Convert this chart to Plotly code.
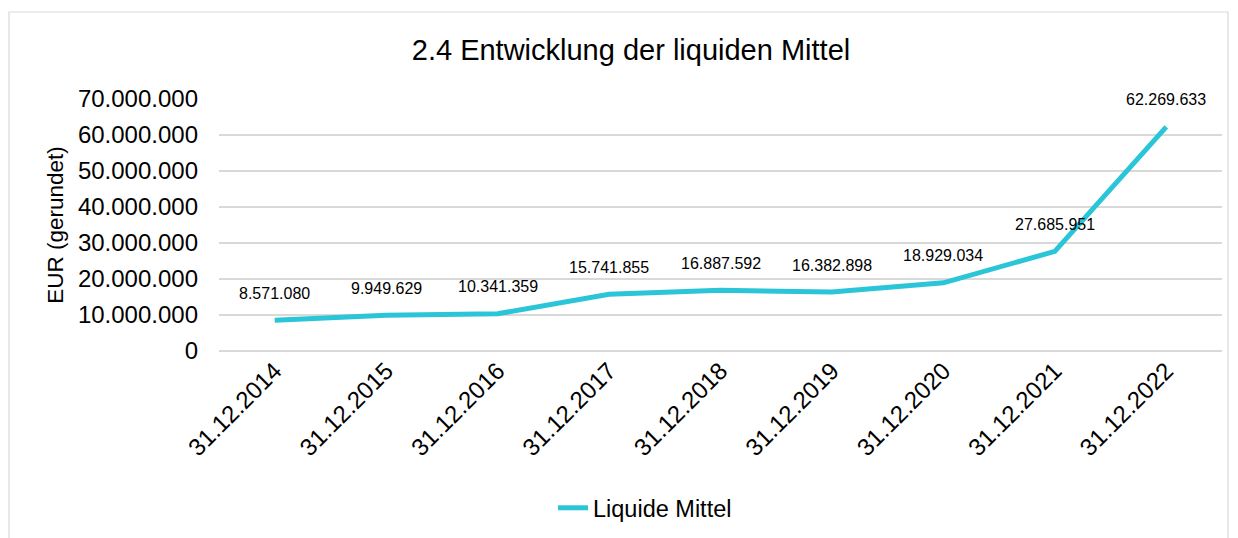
import plotly.graph_objects as go

categories = ["31.12.2014", "31.12.2015", "31.12.2016", "31.12.2017", "31.12.2018",
              "31.12.2019", "31.12.2020", "31.12.2021", "31.12.2022"]
values = [8571080, 9949629, 10341359, 15741855, 16887592, 16382898, 18929034, 27685951, 62269633]
series_name = "Liquide Mittel"
title_text = "2.4 Entwicklung der liquiden Mittel"
y_title = "EUR (gerundet)"
y_ticks = [0, 10000000, 20000000, 30000000, 40000000, 50000000, 60000000, 70000000]

FONT = "Liberation Sans, Arial, sans-serif"
LINE_COLOR = "#2BC5D8"
GRID = "#D9D9D9"

def fmt(v):
    return f"{v:,}".replace(",", ".")

fig = go.Figure()
fig.add_trace(go.Scatter(
    x=categories, y=values, mode="lines", name=series_name,
    line=dict(color=LINE_COLOR, width=5),
))

for c, v in zip(categories, values):
    fig.add_annotation(x=c, y=v, text=fmt(v), showarrow=False, yshift=27,
                       font=dict(size=16, color="#000000", family=FONT))

# page body has an 8px margin; figure coordinates = image coordinates - 8
OFF = 8
W, H = 1230, 530
L, R, T, B = 219 - OFF, 16, 99 - OFF, 187
pw, ph = W - L - R, H - T - B

def px_x(x):
    return (x - OFF - L) / pw

def px_y(y):
    return (H - B - (y - OFF)) / ph

fig.add_shape(type="rect", xref="paper", yref="paper",
              x0=px_x(9), x1=px_x(1228), y0=px_y(570), y1=px_y(12),
              line=dict(color=GRID, width=1.2), fillcolor="rgba(0,0,0,0)", layer="below")

fig.update_layout(
    width=W, height=H,
    margin=dict(l=L, r=R, t=T, b=B, autoexpand=False),
    paper_bgcolor="white", plot_bgcolor="white",
    separators=",.",
    font=dict(family=FONT, color="#000000", size=24),
    title=dict(text=title_text, x=px_x(631), xref="paper", xanchor="center",
               y=1 - (50 - OFF) / H, yref="container", yanchor="middle",
               font=dict(size=29, family=FONT, color="#000000")),
    showlegend=True,
    legend=dict(orientation="h", x=px_x(645), xanchor="center", y=px_y(508), yanchor="middle",
                font=dict(size=23.5, family=FONT, color="#000000")),
    xaxis=dict(type="category", showgrid=False, zeroline=False, showline=False,
               tickangle=-45, tickfont=dict(size=24, family=FONT, color="#000000"),
               ticks="", range=[-0.5, len(categories) - 0.5]),
    yaxis=dict(range=[0, 70000000], tickvals=y_ticks, tickformat=",.0f",
               showgrid=True, gridcolor=GRID, gridwidth=1.5,
               zeroline=True, zerolinecolor=GRID, zerolinewidth=1.5,
               showline=False, ticks="", ticklabelstandoff=20,
               tickfont=dict(size=24, family=FONT, color="#000000"),
               title=dict(text=y_title, standoff=8,
                          font=dict(size=22.5, family=FONT, color="#000000"))),
)

fig.write_html("out.html")
